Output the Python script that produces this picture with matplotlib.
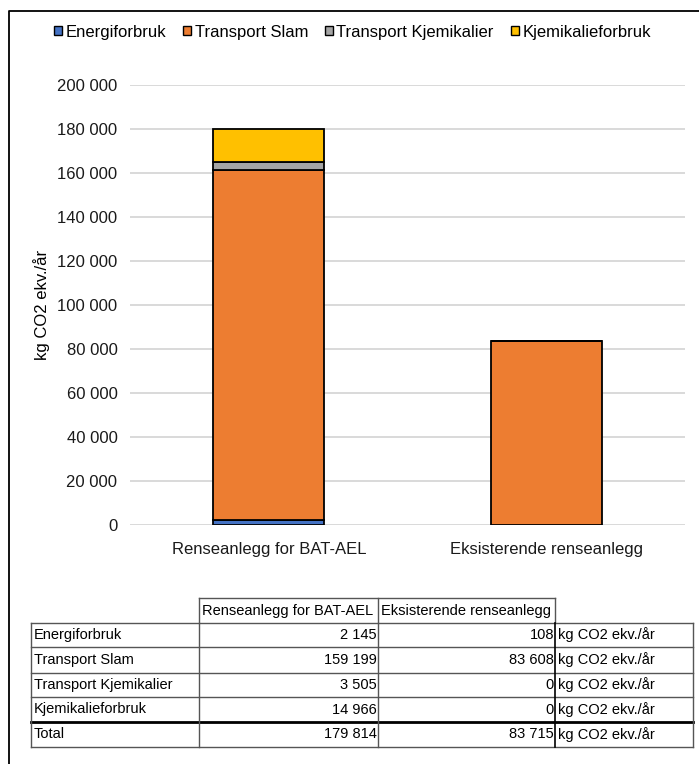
import matplotlib.pyplot as plt
from matplotlib import font_manager
from matplotlib.patches import Patch
from matplotlib.ticker import FuncFormatter
import numpy as np

plt.rcParams['font.family'] = ['Liberation Sans', 'DejaVu Sans']

categories = ["Renseanlegg for BAT-AEL", "Eksisterende renseanlegg"]
series_names = ["Energiforbruk", "Transport Slam", "Transport Kjemikalier", "Kjemikalieforbruk"]
energiforbruk = [2145, 108]
transport_slam = [159199, 83608]
transport_kjemikalier = [3505, 0]
kjemikalieforbruk = [14966, 0]
totals = [179814, 83715]
unit = "kg CO2 ekv./år"
colors = ["#4472C4", "#ED7D31", "#A5A5A5", "#FFC000"]

series = [energiforbruk, transport_slam, transport_kjemikalier, kjemikalieforbruk]


def fmt(v):
    return f"{int(v):,}".replace(",", " ")


W, H = 699, 764
fig = plt.figure(figsize=(W / 100, H / 100), dpi=100)
fs = 12

# chart area
ax = fig.add_axes([130 / W, 1 - 525 / H, 555 / W, 440 / H])
x = np.arange(len(categories))
bottom = np.zeros(len(categories))
for name, vals, c in zip(series_names, series, colors):
    vals = np.array(vals, dtype=float)
    ax.bar(x, vals, 0.4, bottom=bottom, color=c, edgecolor="black", linewidth=1.3, label=name, zorder=3)
    bottom += vals

ax.set_xlim(-0.5, 1.5)
ax.set_ylim(0, 200000)
ax.set_yticks(np.arange(0, 200001, 20000))
ax.yaxis.set_major_formatter(FuncFormatter(lambda v, p: fmt(v)))
ax.set_xticks(x)
ax.set_xticklabels(categories)
ax.tick_params(axis="both", length=0, labelsize=fs, colors="#1a1a1a")
ax.tick_params(axis="y", pad=9)
ax.tick_params(axis="x", pad=12)
ax.grid(axis="y", color="#d9d9d9", linewidth=1.4, zorder=0)
for s in ax.spines.values():
    s.set_visible(False)
ax.set_ylabel(unit, fontsize=fs, labelpad=5)

handles = [Patch(facecolor=c, edgecolor="black", linewidth=1.0) for c in colors]
fig.legend(handles, series_names, loc="center left", bbox_to_anchor=(54 / W, 1 - 32 / H), ncol=4, frameon=False,
           fontsize=fs, handlelength=0.5, handleheight=0.5, handletextpad=0.2, columnspacing=1.0,
           borderaxespad=0, borderpad=0)

# overlay for frame and table
ov = fig.add_axes([0, 0, 1, 1])
ov.set_xlim(0, W)
ov.set_ylim(H, 0)
ov.axis("off")
ov.plot([9, 9, W + 5], [H + 5, 11, 11], color="black", lw=1.3)

names = {f.name for f in font_manager.fontManager.ttflist}
if "Liberation Sans Narrow" in names:
    tab_font = dict(fontsize=12, family="Liberation Sans Narrow")
else:
    tab_font = dict(fontsize=10.5, family="Liberation Sans")

col_x = [31, 199, 378, 555, 693]
row_y = [598, 623, 647, 673, 697, 722, 747]
lc = "#555555"

# header
ov.plot([col_x[1], col_x[3]], [row_y[0], row_y[0]], color=lc, lw=1)
for cx in col_x[1:4]:
    ov.plot([cx, cx], [row_y[0], row_y[1]], color=lc, lw=1)
for i, cat in enumerate(categories):
    ov.text(col_x[i + 1] + 3, (row_y[0] + row_y[1]) / 2, cat, ha="left", va="center", **tab_font)

# body lines
for yy in row_y[1:]:
    thick = yy == row_y[5]
    ov.plot([col_x[0], col_x[-1]], [yy, yy], color="black" if thick else lc, lw=2 if thick else 1)
for k, cx in enumerate(col_x):
    ov.plot([cx, cx], [row_y[1], row_y[-1]], color="black" if k == 3 else lc, lw=1.2 if k == 3 else 1)

rows = list(zip(series_names, series)) + [("Total", totals)]
for r, (name, vals) in enumerate(rows):
    yc = (row_y[r + 1] + row_y[r + 2]) / 2
    ov.text(col_x[0] + 3, yc, name, ha="left", va="center", **tab_font)
    for i, v in enumerate(vals):
        ov.text(col_x[i + 2] - 1, yc, fmt(v), ha="right", va="center", **tab_font)
    ov.text(col_x[3] + 3, yc, unit, ha="left", va="center", **tab_font)

fig.savefig("out.png", dpi=100)
